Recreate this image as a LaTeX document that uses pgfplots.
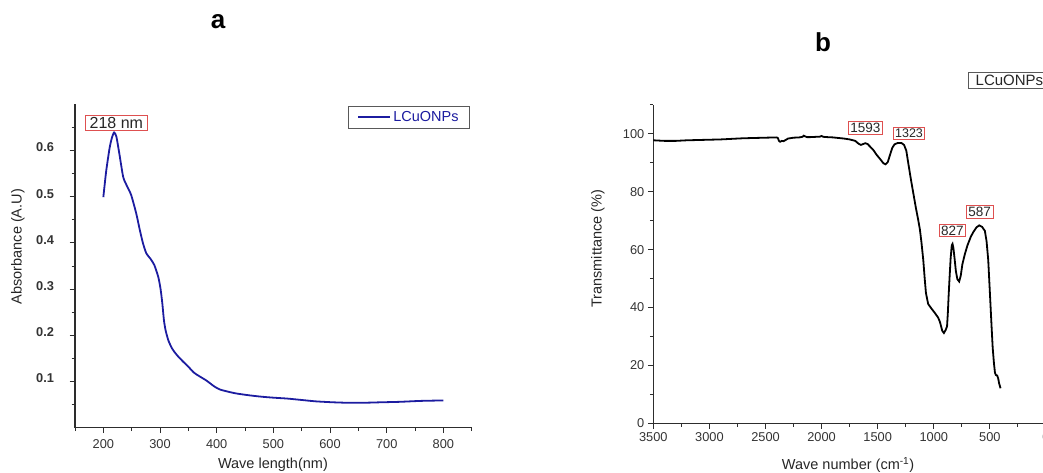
\documentclass[border=0pt]{standalone}
\usepackage{pgfplots}
\pgfplotsset{compat=1.18}
\usepackage{fontspec}
\setmainfont{Liberation Sans}
\definecolor{uvblue}{RGB}{28,28,160}
\definecolor{annred}{RGB}{222,80,80}
\definecolor{axgray}{RGB}{45,45,45}
\begin{document}
\begin{tikzpicture}
\useasboundingbox (0pt,0pt) rectangle (1043pt,473pt);
\clip (0pt,0pt) rectangle (1043pt,473pt);
\pgfplotsset{
 common/.style={scale only axis, axis lines*=left, tick align=outside,
   axis line style={axgray, line width=1.1pt},
   every tick/.style={axgray, line width=1pt},
   major tick length=5.5pt, minor tick length=3.5pt,
   tick label style={font=\fontsize{12.8}{14}\selectfont, text=black!80},
   /pgf/number format/assume math mode=true, /pgf/number format/1000 sep={},
   label style={font=\fontsize{14.5}{17}\selectfont, text=black!85},
   clip=false}
}
\node[font=\bfseries\fontsize{26}{28}\selectfont] at (218pt,451pt) {a};
\node[font=\bfseries\fontsize{26}{28}\selectfont] at (823pt,431pt) {b};
\begin{axis}[common, at={(75pt,45.3pt)}, anchor=south west, width=396.7pt, height=323.4pt,
  xmin=150, xmax=850, ymin=0, ymax=0.7,
  xtick={200,300,400,500,600,700,800}, minor xtick={150,250,350,450,550,650,750,850},
  ytick={0.1,0.2,0.3,0.4,0.5,0.6}, minor ytick={0.05,0.15,0.25,0.35,0.45,0.55,0.65},
  xticklabel style={yshift=-3pt},
  yticklabel style={font=\bfseries\fontsize{12.8}{14}\selectfont, xshift=-12pt, yshift=3pt,
    /pgf/number format/fixed, /pgf/number format/precision=1},
  xlabel={Wave length(nm)}, ylabel={Absorbance (A.U)},
  xlabel style={at={(axis description cs:0.499,-0.115)}, anchor=center},
  ylabel style={at={(axis description cs:-0.1437,0.56)}, anchor=center},
  legend style={at={(axis description cs:0.9957,0.9947)}, anchor=north east,
    draw=black!65, line width=0.8pt, font=\fontsize{14.5}{16}\selectfont, text=uvblue,
    inner xsep=9pt, inner ysep=3pt},
  legend image code/.code={\draw[#1, line width=1.8pt] (0pt,0pt) -- (32pt,0pt);}
]
\addplot[uvblue, line width=1.8pt, smooth, tension=0.4] coordinates {
(200,0.499) (205,0.555) (211,0.605) (215,0.627) (219,0.639) (223,0.630) (228,0.595)
(235,0.543) (241,0.525) (249,0.504) (258,0.464) (264,0.430) (270,0.399) (276,0.377)
(283,0.366) (290,0.352) (297,0.326) (301,0.300) (304,0.270) (307,0.232) (310,0.210)
(315,0.188) (322,0.170) (330,0.157) (340,0.144) (350,0.132) (360,0.119) (370,0.111)
(382,0.102) (395,0.090) (405,0.083) (420,0.078) (435,0.074) (458,0.070) (480,0.067)
(500,0.065) (525,0.063) (550,0.060) (575,0.057) (605,0.055) (630,0.054) (660,0.054)
(690,0.055) (723,0.056) (760,0.058) (800,0.059)
};
\addlegendentry{LCuONPs}
\node[draw=annred, line width=0.9pt, inner xsep=4pt, inner ysep=2pt, text=black!85,
  font=\fontsize{16}{18}\selectfont] at (axis cs:222.9,0.659) {218 nm};
\end{axis}
\begin{axis}[common, at={(653.3pt,49.7pt)}, anchor=south west, width=392.7pt, height=318.3pt,
  x dir=reverse, xmin=0, xmax=3500, ymin=0, ymax=110,
  xtick={0,500,1000,1500,2000,2500,3000,3500}, minor xtick={250,750,1250,1750,2250,2750,3250},
  ytick={0,20,40,60,80,100}, minor ytick={10,30,50,70,90,110},
  xlabel={Wave number (cm\textsuperscript{-1})}, ylabel={Transmittance (\%)},
  xlabel style={at={(axis description cs:0.496,-0.131)}, anchor=center},
  ylabel style={at={(axis description cs:-0.141,0.548)}, anchor=center}
]
\addplot[black, line width=1.8pt] coordinates {
(3500,97.8) (3400,97.6) (3300,97.6) (3200,97.8) (3100,97.9) (3000,98.0) (2900,98.1)
(2800,98.3) (2700,98.5) (2600,98.6) (2500,98.7) (2400,98.8) (2390,98.6) (2380,97.6)
(2370,97.3) (2355,97.6) (2340,97.5) (2320,97.9) (2300,98.4) (2250,98.7) (2200,98.8)
(2170,99.0) (2160,99.4) (2150,99.2) (2130,98.9) (2100,98.9) (2050,99.0) (2020,99.0)
(2000,99.3) (1985,99.0) (1950,98.9) (1900,98.8) (1850,98.6) (1800,98.4) (1750,98.1)
(1700,97.6) (1670,96.6) (1650,96.2) (1630,96.5) (1610,96.8) (1590,96.5) (1570,95.7)
(1540,94.5) (1510,92.8) (1480,91.4) (1450,89.9) (1430,89.5) (1410,90.3) (1390,92.8)
(1370,95.2) (1350,96.4) (1320,96.9) (1290,96.9) (1265,96.2) (1245,94.2) (1228,90.0)
(1205,84.5) (1183,79.6) (1160,74.5) (1140,70.5) (1124,67.0) (1110,62.5) (1094,56.5)
(1080,49.5) (1070,45.0) (1050,41.2) (1020,39.6) (990,38.1) (961,36.5) (945,35.0)
(925,32.0) (910,31.2) (895,32.2) (882,33.5) (875,38.0) (868,44.0) (860,50.0)
(850,57.0) (840,61.5) (833,62.0) (825,60.5) (815,57.0) (803,52.5) (790,49.8)
(774,49.0) (760,51.0) (745,55.0) (723,58.5) (700,61.5) (670,64.5) (649,66.0)
(620,67.7) (595,68.4) (570,67.9) (545,66.5) (530,63.0) (515,56.5) (500,45.0)
(485,33.4) (475,26.0) (464,20.8) (455,17.5) (447,16.7) (435,16.5) (426,15.5)
(418,13.8) (405,12.1)
};
\node[draw=annred, line width=0.9pt, inner xsep=2pt, inner ysep=1.5pt, text=black!85,
  font=\fontsize{13.5}{15}\selectfont] at (axis cs:1609,102.0) {1593};
\node[draw=annred, line width=0.9pt, inner xsep=1.5pt, inner ysep=1.5pt, text=black!85,
  font=\fontsize{12.5}{14}\selectfont] at (axis cs:1221,100.2) {1323};
\node[draw=annred, line width=0.9pt, inner xsep=2pt, inner ysep=1.5pt, text=black!85,
  font=\fontsize{13.5}{15}\selectfont] at (axis cs:834,66.6) {827};
\node[draw=annred, line width=0.9pt, inner xsep=2pt, inner ysep=1.5pt, text=black!85,
  font=\fontsize{13.5}{15}\selectfont] at (axis cs:591,73.0) {587};
\end{axis}
\node[draw=black!65, line width=0.8pt, anchor=north west, inner xsep=7pt, inner ysep=2.5pt,
  font=\fontsize{15}{17}\selectfont, text=black!85] at (968.3pt,400.7pt) {LCuONPs};
\end{tikzpicture}
\end{document}
